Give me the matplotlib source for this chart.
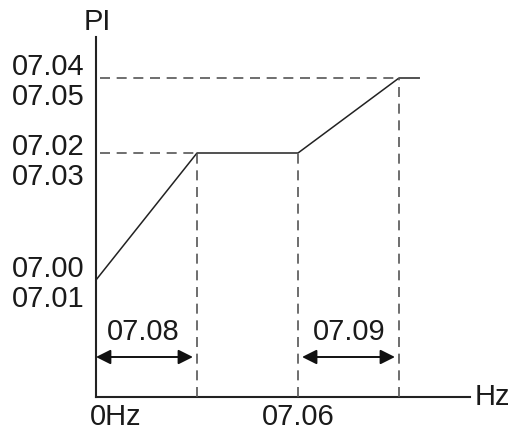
import matplotlib.pyplot as plt

# breakpoints of the PI curve (arbitrary units)
freq = [0, 1.0, 2.0, 3.0, 3.2]
pi_val = [1.17, 2.44, 2.44, 3.19, 3.19]

level_labels = [("07.00", "07.01"), ("07.02", "07.03"), ("07.04", "07.05")]
levels = [1.17, 2.44, 3.19]
freq_labels = ["0Hz", "07.06"]
span_labels = ["07.08", "07.09"]

plt.rcParams['font.family'] = ['Liberation Sans', 'DejaVu Sans']
fs = 21
tc = '#1a1a1a'

fig = plt.figure(figsize=(5.13, 4.30), dpi=100)
ax = fig.add_axes([0, 0, 1, 1])
ax.set_xlim(-0.9505, 4.1287)
ax.set_ylim(-0.33, 3.97)
ax.axis('off')

# axes
ax.plot([0, 0], [0, 3.6], color='#222222', lw=1.5)
ax.plot([0, 3.7], [0, 0], color='#222222', lw=1.5)
ax.text(0.015, 3.67, "PI", fontsize=fs, ha='center', va='baseline', color=tc)
ax.text(3.75, -0.08, "Hz", fontsize=fs, ha='left', va='baseline', color=tc)

# curve
ax.plot(freq, pi_val, color='#222222', lw=1.1)

dash = dict(color='#555555', lw=1.2, linestyle=(0, (6, 4)))
# horizontal guides
ax.plot([0.04, freq[1]], [pi_val[1], pi_val[1]], **dash)
ax.plot([0.04, freq[3]], [pi_val[3], pi_val[3]], **dash)
# vertical guides
for i in (1, 2, 3):
    ax.plot([freq[i], freq[i]], [0, pi_val[i]], **dash)

# level labels (upper label / lower label offsets)
offsets = [(0.03, -0.27), (-0.02, -0.32), (0.03, -0.27)]
for (a, b), lv, (da, db) in zip(level_labels, levels, offsets):
    ax.text(-0.11, lv + da, a, fontsize=fs, ha='right', va='baseline', color=tc)
    ax.text(-0.11, lv + db, b, fontsize=fs, ha='right', va='baseline', color=tc)

# frequency labels
ax.text(-0.06, -0.28, freq_labels[0], fontsize=fs, ha='left', va='baseline', color=tc)
ax.text(freq[2], -0.28, freq_labels[1], fontsize=fs, ha='center', va='baseline', color=tc)

# span arrows
spans = [(freq[0], freq[1]), (freq[2], freq[3])]
label_x = [0.47, 2.51]
for (x0, x1), lab, lx in zip(spans, span_labels, label_x):
    ax.annotate('', xy=(x1 - 0.04, 0.40), xytext=(x0 + 0.04 if x0 > 0 else x0, 0.40),
                arrowprops=dict(arrowstyle='<|-|>', color='#111111', lw=1.4,
                                mutation_scale=22, shrinkA=0, shrinkB=0))
    ax.text(lx, 0.57, lab, fontsize=fs, ha='center', va='baseline', color=tc)

fig.savefig('out.png', dpi=100)
